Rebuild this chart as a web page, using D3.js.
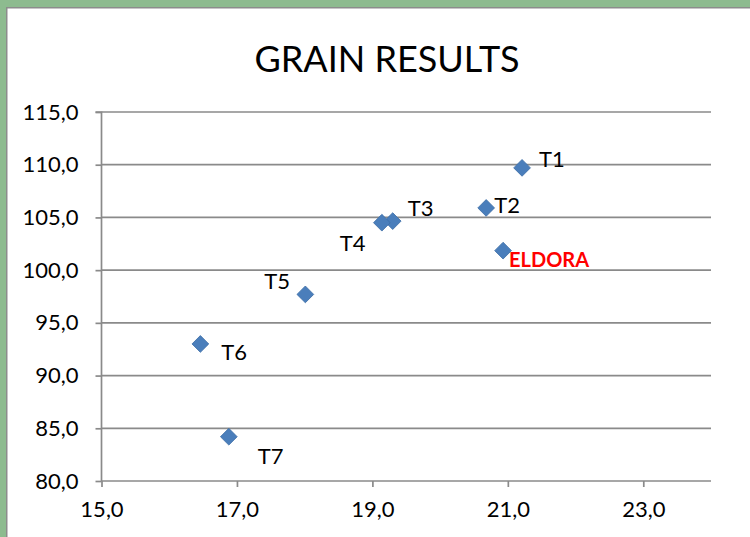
<!DOCTYPE html>
<html><head><meta charset="utf-8">
<script src="https://cdn.jsdelivr.net/npm/d3@7"></script>
<style>html,body{margin:0;padding:0;background:#fff;}svg{display:block;}</style>
</head><body>
<svg id="chart" width="750" height="537"></svg>
<script>
// ---- data ----
const names = ["T1","T2","ELDORA","T3","T4","T5","T6","T7"];
const xValues = [21.21, 20.68, 20.93, 19.30, 19.14, 18.01, 16.46, 16.88];
const yValues = [109.7, 105.9, 101.85, 104.65, 104.5, 97.7, 93.0, 84.2];
const xTicks = [15, 17, 19, 21, 23];
const yTicks = [80, 85, 90, 95, 100, 105, 110, 115];
const title = "GRAIN RESULTS";

// ---- style / layout ----
const labelOffsets = {
  "T1": [17, -9], "T2": [8, -3], "ELDORA": [6, 9], "T3": [15, -13],
  "T4": [-42, 21], "T5": [-41, -13], "T6": [21, 8], "T7": [29, 20]
};
const font = "Lato, 'Open Sans', sans-serif";
const svg = d3.select("#chart");
const W = 750, H = 537;
const plot = {left: 101.5, right: 711, top: 112, bottom: 481};

// frame
svg.append("rect").attr("x",0).attr("y",0).attr("width",W).attr("height",H).attr("fill","#8dbb8f");
svg.append("rect").attr("x",6).attr("y",7).attr("width",W).attr("height",H).attr("fill","#8c8c8c");
svg.append("rect").attr("x",7.5).attr("y",8.5).attr("width",W).attr("height",H).attr("fill","#ffffff");

const x = d3.scaleLinear().domain([15, 24]).range([plot.left, plot.right]);
const y = d3.scaleLinear().domain([80, 115]).range([plot.bottom, plot.top]);

const gridColor = "#8a8a8a";
// gridlines
svg.append("g").selectAll("line").data(yTicks.filter(d => d > 80)).join("line")
  .attr("x1", plot.left).attr("x2", plot.right)
  .attr("y1", d => y(d)).attr("y2", d => y(d))
  .attr("stroke", gridColor).attr("stroke-width", 1.7);

// y axis
const yAxis = d3.axisLeft(y).tickValues(yTicks).tickSize(6).tickPadding(17)
  .tickFormat(d => d3.format(".1f")(d).replace(".", ","));
const gy = svg.append("g").attr("transform", `translate(${plot.left},0)`).call(yAxis);
gy.select(".domain").attr("stroke", gridColor).attr("stroke-width", 1.7).attr("d", `M-6,${plot.top}H0V${plot.bottom}`);
gy.selectAll(".tick line").attr("stroke", gridColor).attr("stroke-width", 1.7);
gy.selectAll(".tick text").attr("font-family", font).attr("font-size", 22).attr("fill", "#000");

// x axis
const xAxis = d3.axisBottom(x).tickValues(xTicks).tickSize(6).tickPadding(14)
  .tickFormat(d => d3.format(".1f")(d).replace(".", ","));
const gx = svg.append("g").attr("transform", `translate(0,${plot.bottom})`).call(xAxis);
gx.select(".domain").attr("stroke", gridColor).attr("stroke-width", 1.7).attr("d", `M${plot.left},0H${plot.right}`);
gx.selectAll(".tick line").attr("stroke", gridColor).attr("stroke-width", 1.7);
gx.selectAll(".tick text").attr("font-family", font).attr("font-size", 22).attr("fill", "#000");

// title
svg.append("text").attr("x", 387).attr("y", 72).attr("text-anchor", "middle")
  .attr("font-family", font).attr("font-size", 36).attr("fill", "#000").text(title);

// points
const pts = names.map((n, i) => ({name: n, x: xValues[i], y: yValues[i]}));
const sym = d3.symbol().type(d3.symbolSquare).size(140);
svg.append("g").selectAll("path").data(pts).join("path")
  .attr("d", sym)
  .attr("transform", d => `translate(${x(d.x)},${y(d.y)}) rotate(45)`)
  .attr("fill", "#4a7ebb").attr("stroke", "#3f6fa8").attr("stroke-width", 0.8);

// labels
svg.append("g").selectAll("text").data(pts).join("text")
  .attr("x", d => x(d.x) + labelOffsets[d.name][0])
  .attr("y", d => y(d.y) + labelOffsets[d.name][1])
  .attr("dy", "0.35em")
  .attr("font-family", font)
  .attr("font-size", d => d.name === "ELDORA" ? 20 : 22)
  .attr("font-weight", d => d.name === "ELDORA" ? "bold" : "normal")
  .attr("fill", d => d.name === "ELDORA" ? "#ff0000" : "#000")
  .text(d => d.name);
</script>
</body></html>
